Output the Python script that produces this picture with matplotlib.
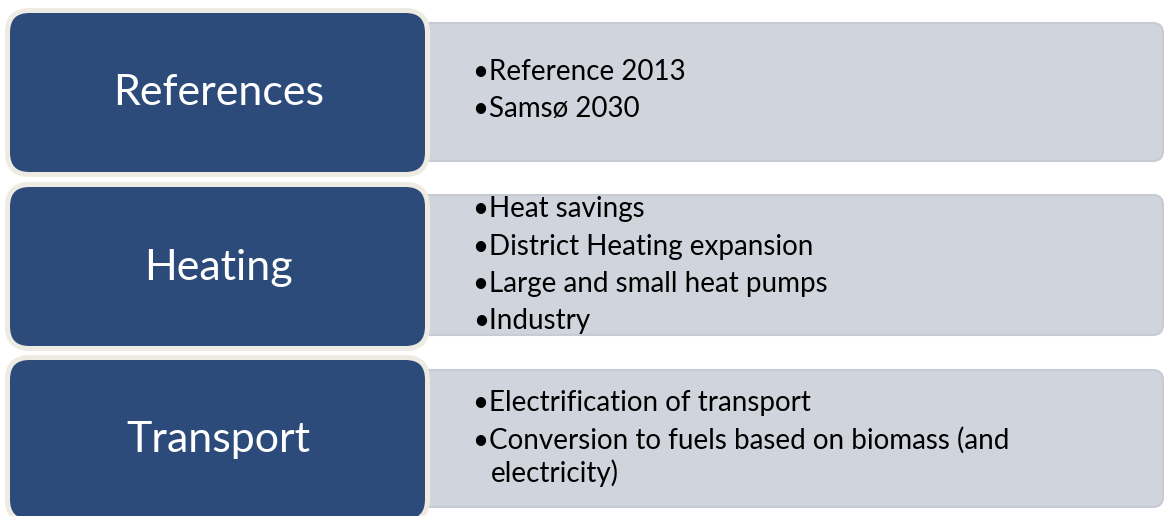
import matplotlib
matplotlib.use("Agg")
import matplotlib.pyplot as plt
from matplotlib.patches import FancyBboxPatch

# ---- content ----
categories = ["References", "Heating", "Transport"]
references_items = ["Reference 2013", "Samsø 2030"]
heating_items = ["Heat savings", "District Heating expansion",
                 "Large and small heat pumps", "Industry"]
transport_items = ["Electrification of transport",
                   "Conversion to fuels based on biomass (and\nelectricity)"]
items = [references_items, heating_items, transport_items]

# ---- layout (pixels) ----
W, H = 1164, 516
blue_boxes = [(5, 8, 430, 177), (5, 182, 430, 351), (5, 355, 430, 524)]
grey_boxes = [(380, 23, 1163, 161), (380, 195, 1163, 335), (380, 370, 1163, 507)]
label_y = [93, 268, 440]
first_line_y = [72, 209, 403]
line_gap = 37.5
wrap_gap = 33
text_x = 473
indent = 18

BLUE = "#2C4A7A"
CREAM = "#EDEBE2"
GREY = "#CFD4DD"
GREY_EDGE = "#C6CBD4"

fig = plt.figure(figsize=(W / 100, H / 100), dpi=100)
ax = fig.add_axes([0, 0, 1, 1])
ax.set_xlim(0, W)
ax.set_ylim(H, 0)
ax.axis("off")

label_font = "Lato"
body_font = "Lato"
label_size = 31
body_size = 20

for (x0, y0, x1, y1) in grey_boxes:
    ax.add_patch(FancyBboxPatch((x0, y0), x1 - x0, y1 - y0,
                                boxstyle="round,pad=0,rounding_size=10",
                                facecolor=GREY, edgecolor=GREY_EDGE,
                                linewidth=1.5, zorder=1))

for (x0, y0, x1, y1), cat, ly in zip(blue_boxes, categories, label_y):
    ax.add_patch(FancyBboxPatch((x0 + 2.5, y0 + 2.5), x1 - x0 - 5, y1 - y0 - 5,
                                boxstyle="round,pad=0,rounding_size=22",
                                facecolor=BLUE, edgecolor=CREAM,
                                linewidth=3.6, zorder=2))
    ax.text((x0 + x1) / 2 + 1, ly, cat,
            color="white", fontsize=label_size, family=label_font,
            ha="center", va="center", zorder=3)

for grp, y_start in zip(items, first_line_y):
    y = y_start
    for it in grp:
        lines = it.split("\n")
        for k, ln in enumerate(lines):
            if k == 0:
                ax.text(text_x, y, "\u2022" + ln, color="black", fontsize=body_size,
                        family=body_font, ha="left", va="center", zorder=3)
            else:
                ax.text(text_x + indent, y, ln, color="black", fontsize=body_size,
                        family=body_font, ha="left", va="center", zorder=3)
            y += line_gap if k == len(lines) - 1 else wrap_gap

fig.savefig("out.png", dpi=100)
